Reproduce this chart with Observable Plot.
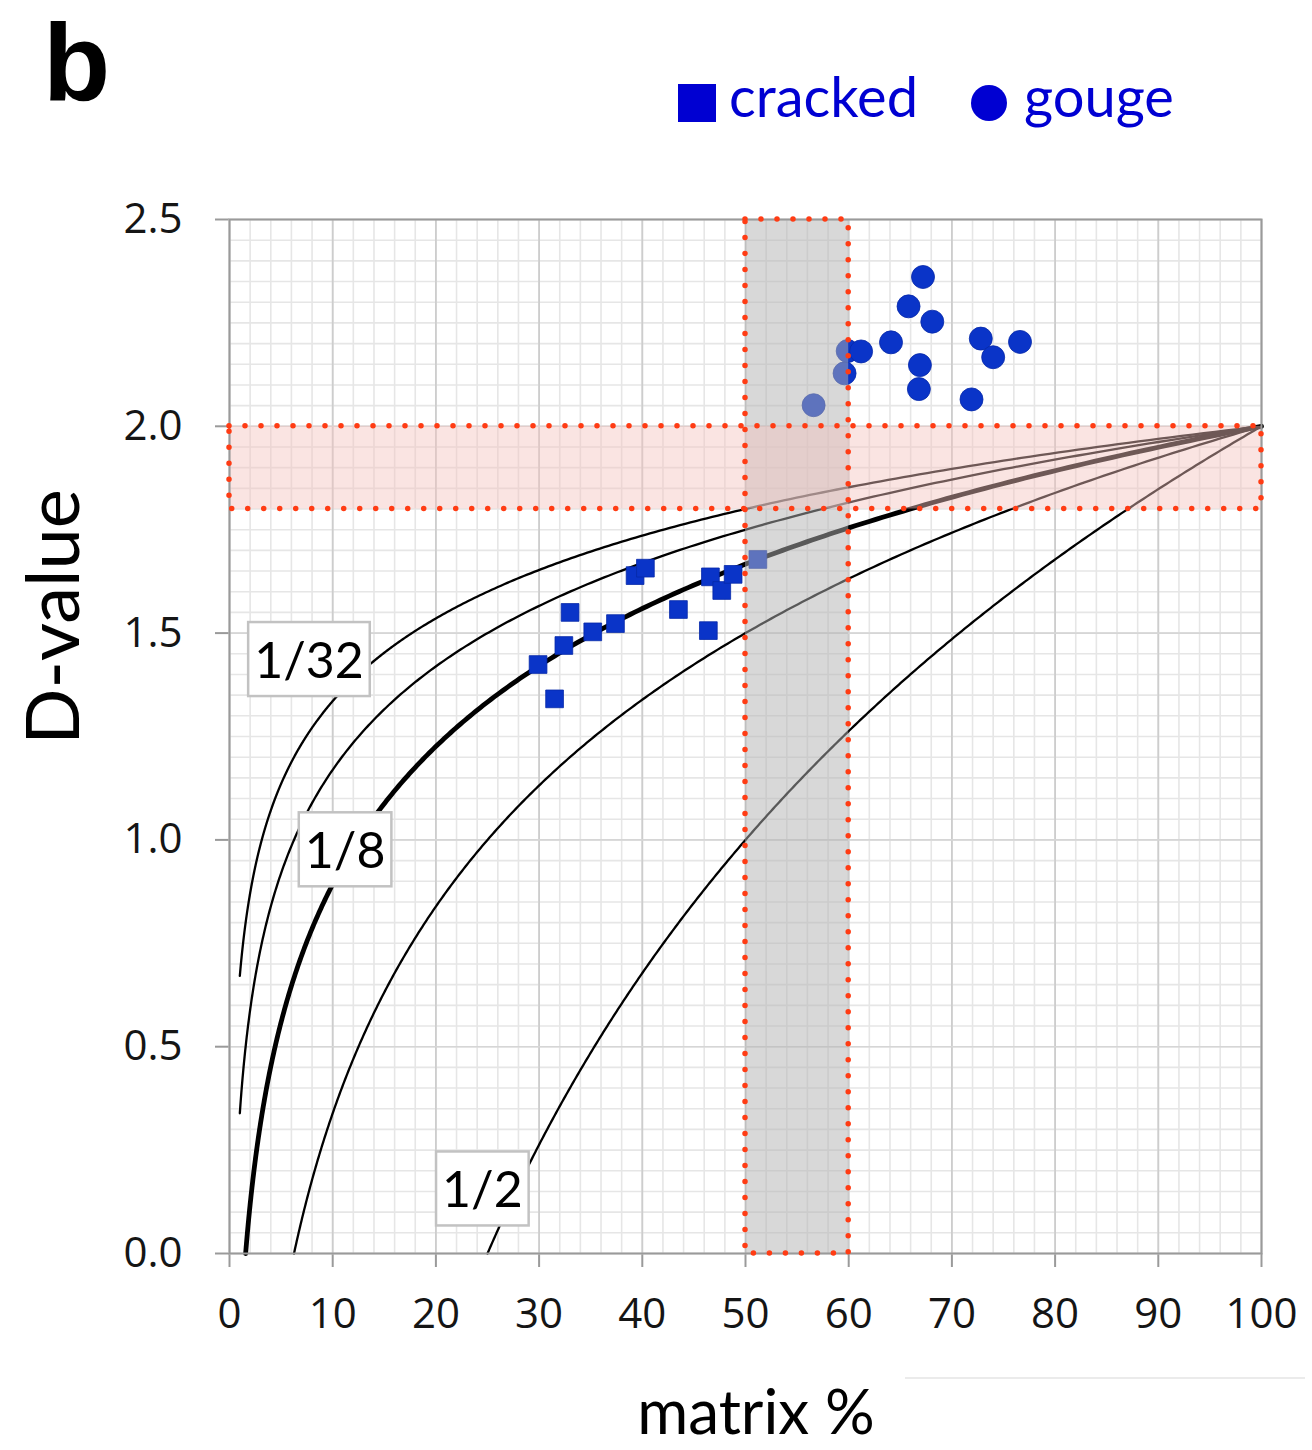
<!DOCTYPE html>
<html>
<head>
<meta charset="utf-8">
<script src="https://cdn.jsdelivr.net/npm/d3@7"></script>
<script src="https://cdn.jsdelivr.net/npm/@observablehq/plot@0.6"></script>
<style>
  body { margin: 0; background: #fff; }
  #fig { position: relative; width: 1312px; height: 1450px; }
  #fig > svg { position: absolute; left: 0; top: 0; }
  g[aria-label="x-axis tick"] path, g[aria-label="y-axis tick"] path { stroke: #9a9a9a; stroke-width: 2; }
  g[aria-label="x-axis tick label"], g[aria-label="y-axis tick label"] { fill: #151515; }
</style>
</head>
<body>
<div id="fig"></div>
<script>
// Cracked samples: matrix % and fractal D-value
const crackedMatrix = [29.9, 31.5, 32.4, 33.0, 35.2, 37.4, 39.3, 40.3, 43.5, 46.4, 46.6, 47.7, 48.8, 51.2];
const crackedD      = [1.424, 1.341, 1.470, 1.550, 1.503, 1.523, 1.639, 1.657, 1.557, 1.506, 1.636, 1.603, 1.642, 1.678];

// Gouge samples
const gougeMatrix = [56.6, 59.6, 59.9, 61.2, 64.1, 65.8, 66.8, 66.9, 67.2, 68.1, 71.9, 72.8, 74.0, 76.6];
const gougeD      = [2.051, 2.128, 2.182, 2.181, 2.203, 2.290, 2.090, 2.148, 2.361, 2.253, 2.065, 2.212, 2.167, 2.204];

// Size ratios of the model curves (1/8 drawn heavier)
const ratios = [1/32, 1/16, 1/8, 1/4, 1/2];
const ratioWeights = [2.3, 2.3, 4.8, 2.3, 2.3];

// Curve labels, anchored in data units
const labelText   = ["1/32", "1/8", "1/2"];
const labelMatrix = [7.7, 11.2, 24.5];
const labelD      = [1.43, 0.97, 0.15];

// Highlighted ranges
const matrixBand = [50, 60];
const dBand = [1.8, 2.0];

const xDomain = [0, 100];
const yDomain = [0, 2.5];
const xTicks = d3.range(0, 101, 10);
const yTicks = [0, 0.5, 1.0, 1.5, 2.0, 2.5];

// Model: matrix fraction = ratio^(2 - D)  =>  D = 2 - ln(matrix/100) / ln(ratio)
function fractalD(matrixPct, ratio) {
  return 2 - Math.log(matrixPct / 100) / Math.log(ratio);
}
function modelCurve(ratio) {
  const m0 = Math.max(1, 100 * ratio * ratio); // start at D = 0 or at 1 %
  return d3.range(0, 401).map(k => {
    const m = m0 * Math.pow(100 / m0, k / 400);
    return {m, d: fractalD(m, ratio)};
  });
}

const cracked = crackedMatrix.map((m, i) => ({m, d: crackedD[i]}));
const gouge = gougeMatrix.map((m, i) => ({m, d: gougeD[i]}));
const labels = labelText.map((t, i) => ({t, m: labelMatrix[i], d: labelD[i]}));

const pointColor = "#0a34c8";
const dotStyle = {fill: "none", stroke: "#ff3c14", strokeWidth: 5.5, strokeDasharray: "0 16", strokeLinecap: "round"};

const chart = Plot.plot({
  width: 1312,
  height: 1450,
  marginLeft: 229,
  marginRight: 51,
  marginTop: 219,
  marginBottom: 197,
  style: {fontFamily: "'Open Sans', sans-serif", fontSize: "42px", background: "transparent", overflow: "visible"},
  x: {domain: xDomain, ticks: xTicks, tickSize: 14, tickPadding: 31, label: null},
  y: {domain: yDomain, ticks: yTicks, tickFormat: d3.format(".1f"), tickSize: 14, tickPadding: 33, label: null},
  marks: [
    // fine grid
    Plot.ruleX(d3.range(0, 101, 2), {stroke: "#e6e6e6", strokeWidth: 1.6}),
    Plot.ruleY(d3.range(0, 51).map(k => k * 0.05), {stroke: "#e6e6e6", strokeWidth: 1.6}),
    // major grid
    Plot.ruleX(xTicks, {stroke: "#cdcdcd", strokeWidth: 1.8}),
    Plot.ruleY(yTicks, {stroke: "#d6d6d6", strokeWidth: 1.6}),
    // model curves
    ...ratios.map((r, i) => Plot.line(modelCurve(r), {x: "m", y: "d", stroke: "#000", strokeWidth: ratioWeights[i], curve: "linear"})),
    // curve labels (boxes added after render)
    Plot.text(labels, {x: "m", y: "d", text: "t", fontSize: 50, fontFamily: "Lato, sans-serif", fill: "#000"}),
    // samples
    Plot.dot(cracked, {x: "m", y: "d", symbol: "square", r: 10, fill: pointColor, stroke: "#0628a8", strokeWidth: 0.8}),
    Plot.dot(gouge, {x: "m", y: "d", symbol: "circle", r: 11.5, fill: pointColor, stroke: "#0628a8", strokeWidth: 0.8}),
    // shaded ranges
    Plot.rect([{x1: matrixBand[0], x2: matrixBand[1], y1: yDomain[0], y2: yDomain[1]}],
      {x1: "x1", x2: "x2", y1: "y1", y2: "y2", fill: "#b2b2b2", fillOpacity: 0.5}),
    Plot.rect([{x1: xDomain[0], x2: xDomain[1], y1: dBand[0], y2: dBand[1]}],
      {x1: "x1", x2: "x2", y1: "y1", y2: "y2", fill: "#f5c4be", fillOpacity: 0.45}),
    Plot.frame({stroke: "#9a9a9a", strokeWidth: 2}),
    Plot.rect([{x1: matrixBand[0], x2: matrixBand[1], y1: yDomain[0], y2: yDomain[1]}],
      {x1: "x1", x2: "x2", y1: "y1", y2: "y2", ...dotStyle}),
    Plot.rect([{x1: xDomain[0], x2: xDomain[1], y1: dBand[0], y2: dBand[1]}],
      {x1: "x1", x2: "x2", y1: "y1", y2: "y2", ...dotStyle})
  ]
});

const fig = document.getElementById("fig");
fig.appendChild(chart);

// white boxes with a grey border behind each curve label
d3.select(chart).selectAll('g[aria-label="text"] text').each(function () {
  const b = this.getBBox();
  const padX = 6, padY = 7;
  const t = this.getAttribute("transform");
  const box = d3.select(this.parentNode).insert("rect", () => this)
    .attr("x", b.x - padX).attr("y", b.y - padY)
    .attr("width", b.width + 2 * padX).attr("height", b.height + 2 * padY)
    .attr("fill", "#fff").attr("stroke", "#c2c2c2").attr("stroke-width", 2.5);
  if (t) box.attr("transform", t);
});

// panel letter, legend and axis titles
const over = d3.select(fig).append("svg")
  .attr("width", 1312).attr("height", 1450)
  .style("pointer-events", "none");

over.append("text").attr("x", 43).attr("y", 100)
  .attr("font-family", "'Liberation Sans', Arial, sans-serif").attr("font-weight", "bold")
  .attr("font-size", 110).attr("fill", "#000").text("b");

const legendBlue = "#0000d2";
over.append("rect").attr("x", 678).attr("y", 84).attr("width", 38).attr("height", 38).attr("fill", legendBlue);
over.append("text").attr("x", 729).attr("y", 117)
  .attr("font-family", "Lato, sans-serif").attr("font-size", 56).attr("fill", legendBlue).text("cracked");
over.append("circle").attr("cx", 989).attr("cy", 103).attr("r", 18).attr("fill", legendBlue);
over.append("text").attr("x", 1024).attr("y", 117)
  .attr("font-family", "Lato, sans-serif").attr("font-size", 56).attr("fill", legendBlue).text("gouge");

over.append("text").attr("x", 756).attr("y", 1434).attr("text-anchor", "middle")
  .attr("font-family", "Lato, sans-serif").attr("font-size", 62).attr("fill", "#000").text("matrix %");

over.append("text").attr("transform", "translate(79,617) rotate(-90)").attr("text-anchor", "middle")
  .attr("font-family", "Lato, sans-serif").attr("font-size", 74).attr("fill", "#000").text("D-value");

over.append("line").attr("x1", 905).attr("x2", 1305).attr("y1", 1378).attr("y2", 1378)
  .attr("stroke", "#e4e4e4").attr("stroke-width", 1.5);
</script>
</body>
</html>
